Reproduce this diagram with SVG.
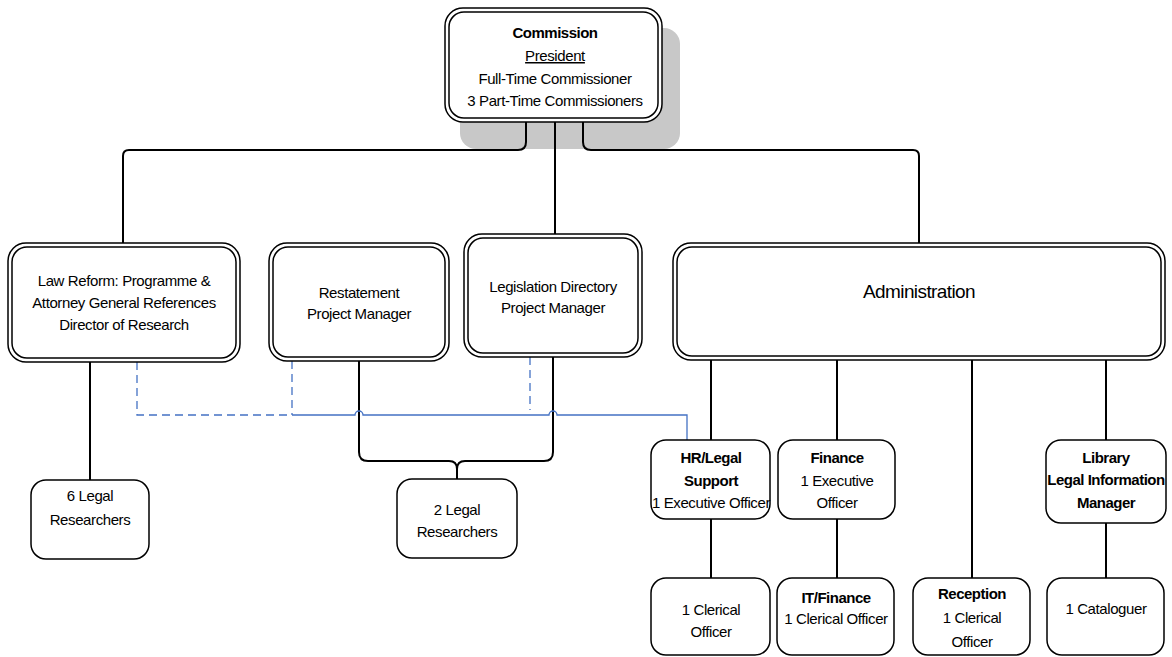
<svg xmlns="http://www.w3.org/2000/svg" width="1172" height="657" viewBox="0 0 1172 657">
<style>
text{font-family:"Liberation Sans",Arial,sans-serif;font-size:15px;letter-spacing:-0.4px;fill:#000;text-anchor:middle}
.b{font-weight:bold;letter-spacing:-0.5px}
.big{font-size:19px;letter-spacing:-0.6px}
.o{fill:#fff;stroke:#000;stroke-width:1.5}
.i{fill:none;stroke:#000;stroke-width:1.5}
.s{fill:#fff;stroke:#000;stroke-width:1.5}
.ln{fill:none;stroke:#000;stroke-width:2}
.bl{fill:none;stroke:#4472C4;stroke-width:1.3}
.dash{stroke-dasharray:8 5}
</style>
<rect x="460" y="28" width="220" height="121" rx="16" fill="#c8c8c8"/>
<g id="connectors">
<path class="ln" d="M526,122 V142 Q526,150 518,150 H129 Q123,150 123,156 V243"/>
<path class="ln" d="M555,122 V234"/>
<path class="ln" d="M583,122 V142 Q583,150 591,150 H913 Q919,150 919,156 V243"/>
<path class="ln" d="M90,362 V480"/>
<path class="ln" d="M359,361 V452 Q359,461 368,461 H449 Q457,461 457,469 V479"/>
<path class="ln" d="M553,357 V452 Q553,461 544,461 H465 Q457,461 457,469"/>
<path class="ln" d="M711,360 V440 M711,519 V578"/>
<path class="ln" d="M837,360 V440 M837,519 V578"/>
<path class="ln" d="M972,360 V578"/>
<path class="ln" d="M1106,360 V440 M1106,523 V578"/>
<path class="bl dash" d="M137,362 V415 H292"/>
<path class="bl dash" d="M292,361 V415"/>
<path class="bl dash" d="M530,357 V410"/>
<path class="bl" d="M292,415 H355 A4,4 0 0 1 363,415 H549 A4,4 0 0 1 557,415 H687 V440"/>
</g>
<g id="commission">
<rect class="o" x="445" y="8" width="217" height="114" rx="18"/>
<rect class="i" x="449" y="12" width="209" height="106" rx="15"/>
<text x="555" y="38" class="b">Commission</text>
<text x="555" y="61" text-decoration="underline">President</text>
<text x="555" y="84">Full-Time Commissioner</text>
<text x="555" y="106">3 Part-Time Commissioners</text>
</g>
<g id="lawreform">
<rect class="o" x="8" y="243" width="232" height="119" rx="18"/>
<rect class="i" x="12" y="247" width="224" height="111" rx="15"/>
<text x="124" y="286">Law Reform: Programme &amp;</text>
<text x="124" y="308">Attorney General References</text>
<text x="124" y="330">Director of Research</text>
</g>
<g id="restatement">
<rect class="o" x="269" y="243" width="180" height="118" rx="18"/>
<rect class="i" x="273" y="247" width="172" height="110" rx="15"/>
<text x="359" y="298">Restatement</text>
<text x="359" y="319">Project Manager</text>
</g>
<g id="legislation">
<rect class="o" x="464" y="234" width="178" height="123" rx="18"/>
<rect class="i" x="468" y="238" width="170" height="115" rx="15"/>
<text x="553" y="292">Legislation Directory</text>
<text x="553" y="313">Project Manager</text>
</g>
<g id="administration">
<rect class="o" x="673" y="243" width="492" height="117" rx="18"/>
<rect class="i" x="677" y="247" width="484" height="109" rx="15"/>
<text x="919" y="298" class="big">Administration</text>
</g>
<g id="legal6">
<rect class="s" x="31" y="480" width="118" height="79" rx="15"/>
<text x="90" y="501">6 Legal</text>
<text x="90" y="525">Researchers</text>
</g>
<g id="legal2">
<rect class="s" x="397" y="479" width="120" height="79" rx="15"/>
<text x="457" y="515">2 Legal</text>
<text x="457" y="537">Researchers</text>
</g>
<g id="hr">
<rect class="s" x="651" y="440" width="119" height="79" rx="15"/>
<text x="711" y="463" class="b">HR/Legal</text>
<text x="711" y="486" class="b">Support</text>
<text x="711" y="508">1 Executive Officer</text>
</g>
<g id="finance">
<rect class="s" x="778" y="440" width="117" height="79" rx="15"/>
<text x="837" y="463" class="b">Finance</text>
<text x="837" y="486">1 Executive</text>
<text x="837" y="508">Officer</text>
</g>
<g id="library">
<rect class="s" x="1046" y="440" width="120" height="83" rx="15"/>
<text x="1106" y="463" class="b">Library</text>
<text x="1106" y="485" class="b">Legal Information</text>
<text x="1106" y="508" class="b">Manager</text>
</g>
<g id="clerical">
<rect class="s" x="651" y="578" width="119" height="77" rx="15"/>
<text x="711" y="615">1 Clerical</text>
<text x="711" y="637">Officer</text>
</g>
<g id="itfinance">
<rect class="s" x="777" y="578" width="117" height="77" rx="15"/>
<text x="836" y="603" class="b">IT/Finance</text>
<text x="836" y="624">1 Clerical Officer</text>
</g>
<g id="reception">
<rect class="s" x="913" y="578" width="117" height="77" rx="15"/>
<text x="972" y="599" class="b">Reception</text>
<text x="972" y="623">1 Clerical</text>
<text x="972" y="647">Officer</text>
</g>
<g id="cataloguer">
<rect class="s" x="1047" y="578" width="117" height="77" rx="15"/>
<text x="1106" y="614">1 Cataloguer</text>
</g>
</svg>
